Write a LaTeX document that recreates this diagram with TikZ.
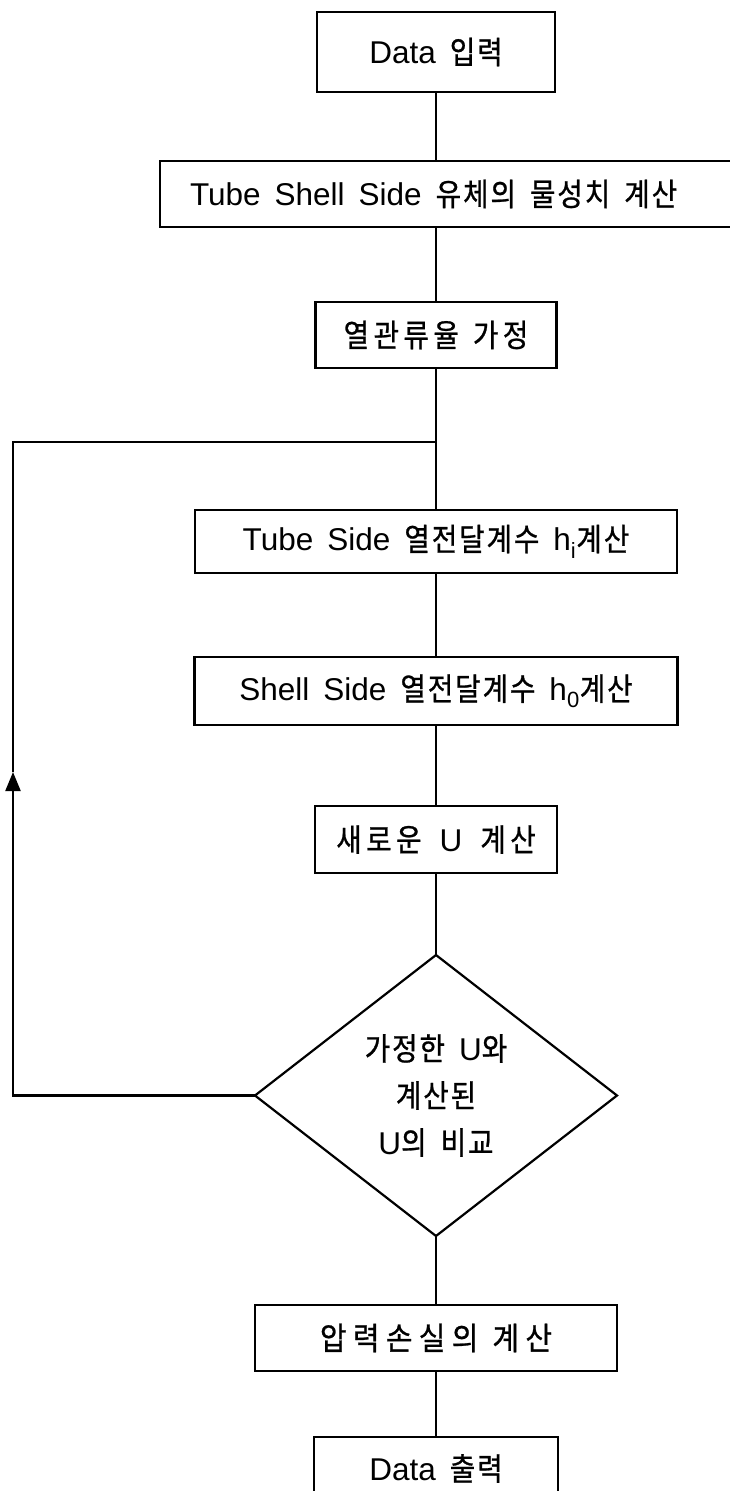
\documentclass[tikz,border=0pt]{standalone}
\usepackage{fontspec}
\setmainfont{Liberation Sans}
\newfontfamily\krfont[LetterSpace=6, FakeStretch=0.88, FakeBold=0.8]{Noto Sans CJK KR}
\newfontfamily\krwide[LetterSpace=14, FakeStretch=0.88, FakeBold=0.8]{Noto Sans CJK KR}
\newfontfamily\krwider[LetterSpace=20, FakeStretch=0.92, FakeBold=0.8]{Noto Sans CJK KR}
\newcommand{\kor}[1]{{\krfont #1}}
\newcommand{\boxfont}{\fontsize{31.5}{38}\selectfont\spaceskip 14pt\relax}
\usetikzlibrary{arrows.meta,positioning,shapes.geometric}

\begin{document}
\begin{tikzpicture}[
  x=1pt, y=1pt,
  box/.style={draw, line width=2.2pt, minimum height=66pt, inner sep=0pt, outer sep=0pt,
    align=center, font=\boxfont},
  cond/.style={diamond, draw, line width=2.2pt, inner sep=0pt, outer sep=0pt, aspect=1.29,
    minimum width=362pt, minimum height=281pt, align=center, font=\boxfont},
  line/.style={line width=2.2pt},
  arr/.style={line width=2.2pt, -{Triangle[length=19pt,width=15pt]}}
]
\useasboundingbox (0,0) rectangle (729,-1491);

\node[box, minimum width=238pt, minimum height=80pt] (inp) at (436,-52) {Data \kor{입력}};
\node[box, minimum width=600pt, below=69pt of inp, xshift=24pt] (prop)
  {\makebox[540pt][l]{Tube Shell Side \kor{유체의 물성치 계산}}};
\node[box, minimum width=241pt, below=75pt of prop, xshift=-24pt] (guess) {{\krwide 열관류율 가정}};
\coordinate[below=74pt of guess] (jn);
\node[box, minimum width=482pt, minimum height=63pt, below=142pt of guess] (hin)
  {Tube Side \kor{열전달계수} h\textsubscript{i}\kor{계산}};
\node[box, minimum width=483pt, minimum height=68pt, below=84pt of hin] (hout)
  {Shell Side \kor{열전달계수} h\textsubscript{0}\kor{계산}};
\node[box, minimum width=242pt, minimum height=67pt, below=81pt of hout,
  font={\boxfont\spaceskip 18pt\relax}] (newu) {{\krwide 새로운} U {\krwide 계산}};
\node[cond, below=82pt of newu] (cmp)
  {\kor{가정한} U\kor{와}\\[9pt]\kor{계산된}\\[9pt]U\kor{의 비교}};
\node[box, minimum width=362pt, below=69pt of cmp] (dp) {{\krwider 압력손실의 계산}};
\node[box, minimum width=244pt, minimum height=63pt, below=66pt of dp] (out) {Data \kor{출력}};

% main flow
\draw[line] (inp.south) -- (inp.south |- prop.north);
\draw[line] (guess.north |- prop.south) -- (guess.north);
\draw[line] (guess) -- (hin);
\draw[line] (hin) -- (hout);
\draw[line] (hout) -- (newu);
\draw[line] (newu) -- (cmp);
\draw[line] (cmp) -- (dp);
\draw[line] (dp) -- (out);

% loop back
\coordinate (tip) at (13,-772);
\draw[arr] (cmp.west) -| (tip);
\draw[line] (tip) |- (jn);
\end{tikzpicture}
\end{document}
